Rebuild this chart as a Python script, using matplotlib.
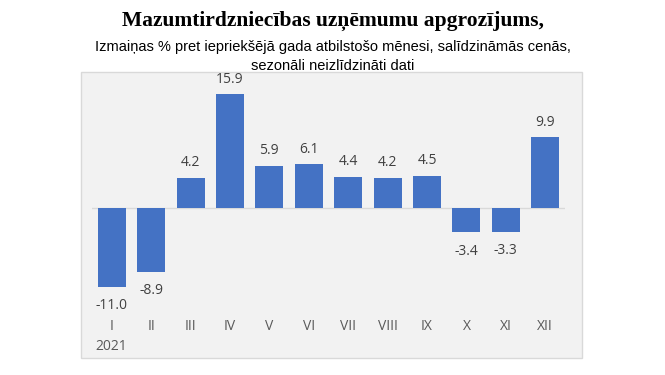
import matplotlib
matplotlib.use("Agg")
import matplotlib.pyplot as plt
from matplotlib.patches import Rectangle

months = ["I", "II", "III", "IV", "V", "VI", "VII", "VIII", "IX", "X", "XI", "XII"]
values = [-11.0, -8.9, 4.2, 15.9, 5.9, 6.1, 4.4, 4.2, 4.5, -3.4, -3.3, 9.9]
year_label = "2021"

title = "Mazumtirdzniecības uzņēmumu apgrozījums,"
subtitle = "Izmaiņas % pret iepriekšējā gada atbilstošo mēnesi, salīdzināmās cenās,\nsezonāli neizlīdzināti dati"

W, H = 665, 375
fig = plt.figure(figsize=(W / 100, H / 100), dpi=100)
fig.patch.set_facecolor("white")

# gray chart panel
panel = Rectangle((81 / W, 1 - 358 / H), (582 - 81) / W, (358 - 72) / H,
                  transform=fig.transFigure, facecolor="#f2f2f2",
                  edgecolor="#d9d9d9", linewidth=1.0, zorder=-5)
fig.patches.append(panel)

ymin, ymax = -12, 17
ppu = 7.15
top_px = 208 - ymax * ppu
bot_px = 208 - ymin * ppu
ax = fig.add_axes([92 / W, 1 - bot_px / H, (565 - 92) / W, (bot_px - top_px) / H])
ax.set_zorder(5)
ax.set_facecolor("none")
ax.patch.set_alpha(0)
ax.set_xlim(-0.5, len(months) - 0.5)
ax.set_ylim(ymin, ymax)

x = list(range(len(months)))
ax.bar(x, values, width=0.71, color="#4472c4", zorder=3)
ax.axhline(0, color="#d9d9d9", linewidth=1.0, zorder=2)

for xi, v in zip(x, values):
    if v >= 0:
        ax.annotate(f"{v:.1f}", (xi, v), xytext=(0, 5.5), textcoords="offset points",
                    ha="center", va="bottom", fontsize=10, color="#404040",
                    family="Open Sans")
    else:
        ax.annotate(f"{v:.1f}", (xi, v), xytext=(0, -8.5), textcoords="offset points",
                    ha="center", va="top", fontsize=10, color="#404040",
                    family="Open Sans")

for s in ax.spines.values():
    s.set_visible(False)
ax.set_yticks([])
ax.set_xticks(x)
labels = [m if i > 0 else m + "\n" + year_label for i, m in enumerate(months)]
ax.set_xticklabels(labels, fontsize=10, color="#595959", family="Open Sans",
                   linespacing=1.45, va="top")
ax.tick_params(axis="x", length=0, pad=18.5)

fig.text(0.5, 1 - 21 / H, title, ha="center", va="center", fontsize=15.5,
         fontweight="bold", family="Liberation Serif", color="black")
fig.text(0.5, 1 - 56.5 / H, subtitle, ha="center", va="center", fontsize=10.5,
         family="Liberation Sans", color="black", linespacing=1.5)

fig.savefig("out.png", dpi=100, facecolor="white")
